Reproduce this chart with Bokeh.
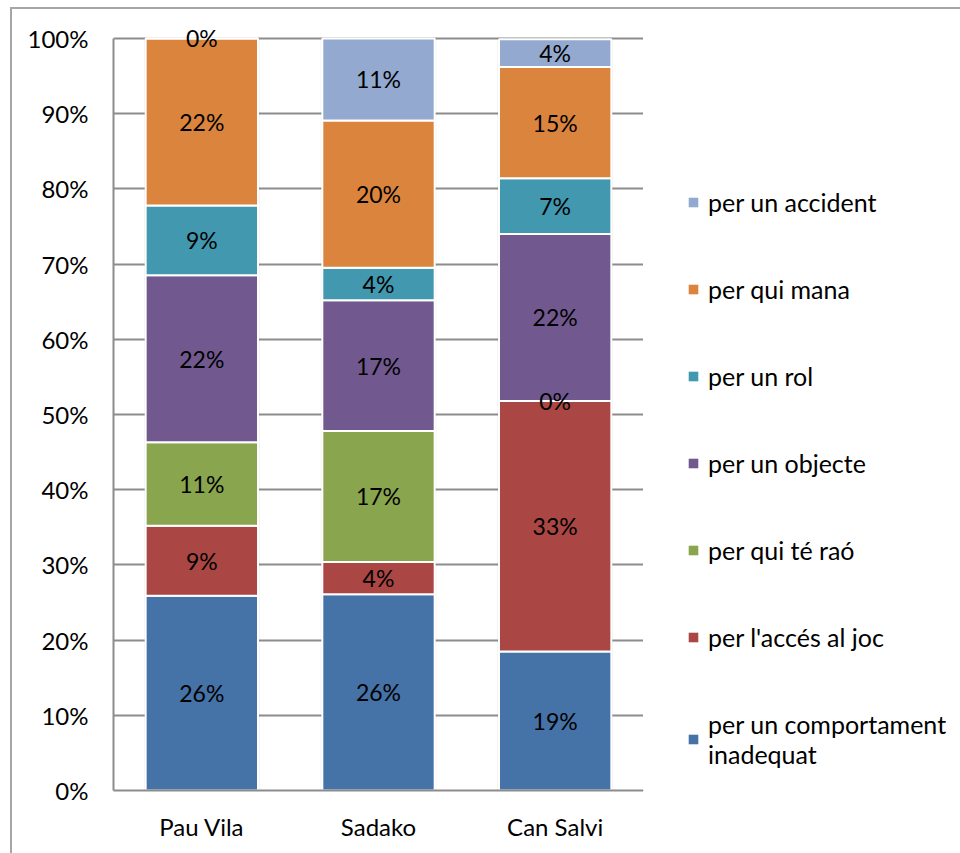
from bokeh.plotting import figure
from bokeh.layouts import row
from bokeh.models import (ColumnDataSource, FactorRange, FixedTicker, PrintfTickFormatter,
                          LabelSet, Legend, LegendItem)
from bokeh.core.properties import value
from bokeh.embed import file_html
from bokeh.resources import INLINE

# Schools (categories) and reasons for conflicts (stacked series, bottom to top)
schools = ["Pau Vila", "Sadako", "Can Salvi"]
series = ["per un comportament\ninadequat", "per l'accés al joc", "per qui té raó",
          "per un objecte", "per un rol", "per qui mana", "per un accident"]
series_keys = ["comportament", "acces", "rao", "objecte", "rol", "mana", "accident"]

# Percentage of each reason per school, in the same order as `series`
pau_vila = [25.9, 9.3, 11.1, 22.2, 9.3, 22.2, 0.0]
sadako = [26.1, 4.3, 17.4, 17.4, 4.3, 19.6, 10.9]
can_salvi = [18.5, 33.3, 0.0, 22.2, 7.4, 14.8, 3.7]

y_ticks = [0, 10, 20, 30, 40, 50, 60, 70, 80, 90, 100]

colors = ["#4572A7", "#AA4643", "#89A54E", "#71588F", "#4198AF", "#DB843D", "#93A9CF"]
FONT = "Lato"

per_school = [pau_vila, sadako, can_salvi]
data = {"school": schools}
for i, key in enumerate(series_keys):
    data[key] = [vals[i] for vals in per_school]
source = ColumnDataSource(data)

# a little headroom above 100% so the top value label is not clipped
p = figure(x_range=FactorRange(factors=schools, range_padding=0), y_range=(0, 103.72),
           width=631, height=844, output_backend="svg", toolbar_location=None,
           min_border_left=101, min_border_right=0, min_border_top=1, min_border_bottom=63)
p.outline_line_color = None
p.background_fill_color = "white"

# soft shadow behind each column
p.vbar(x="school", top=100, width=0.655, source=source, fill_color="#000000",
       fill_alpha=0.06, line_color=None)

renderers = p.vbar_stack(series_keys, x="school", width=0.636, source=source,
                         fill_color=colors, line_color="white", line_width=2)

# value labels centred in each segment
lx, ly, lt = [], [], []
for school, vals in zip(schools, per_school):
    base = 0.0
    for v in vals:
        lx.append(school)
        ly.append(base + v / 2)
        lt.append(f"{int(v + 0.5)}%")
        base += v
labels = LabelSet(x="x", y="y", text="t", source=ColumnDataSource(dict(x=lx, y=ly, t=lt)),
                  text_align="center", text_baseline="middle", text_font=value(FONT),
                  text_font_size=value("23px"), text_color="black")
p.add_layout(labels)

# axes and grid
p.yaxis.ticker = FixedTicker(ticks=y_ticks)
p.yaxis.formatter = PrintfTickFormatter(format="%d%%")
p.yaxis.bounds = (0, 100)
for ax in (p.xaxis, p.yaxis):
    ax.major_tick_line_color = None
    ax.minor_tick_line_color = None
    ax.axis_line_color = "#8c8c8c"
    ax.axis_line_width = 2
    ax.major_label_text_font = FONT
    ax.major_label_text_font_size = "24px"
    ax.major_label_text_color = "black"
p.yaxis.major_label_standoff = 19
p.xaxis.major_label_standoff = 15
p.xgrid.grid_line_color = None
p.ygrid.ticker = FixedTicker(ticks=y_ticks)
p.ygrid.grid_line_color = "#8c8c8c"
p.ygrid.grid_line_width = 2

# legend panel: key swatches in the series colours (kept outside the panel's view),
# listed from the top of the stack down
lg = figure(width=317, height=844, x_range=(0, 1), y_range=(0, 1), output_backend="svg",
            toolbar_location=None, x_axis_type=None, y_axis_type=None,
            min_border_left=0, min_border_right=0, min_border_top=0, min_border_bottom=0)
lg.outline_line_color = None
lg.grid.visible = False
keys = []
for color in colors:
    keys.append(lg.vbar(x=[-10], bottom=[-10], top=[-9], width=0.5,
                        fill_color=color, line_color=None))
items = [LegendItem(label=series[i], renderers=[keys[i]]) for i in reversed(range(len(series)))]
legend = Legend(items=items, location=(44, 21), orientation="vertical",
                border_line_color=None, background_fill_alpha=0, padding=0, margin=0,
                glyph_width=12, glyph_height=12, label_height=24, spacing=57,
                label_standoff=9, label_text_font=FONT, label_text_font_size="25px",
                label_text_color="black")
lg.add_layout(legend)

layout = row(p, lg, styles={"margin-left": "10px", "margin-top": "7px",
                            "border-left": "2px solid #a6a6a6",
                            "border-top": "2px solid #a6a6a6"})

open("out.html", "w").write(file_html(layout, INLINE))
